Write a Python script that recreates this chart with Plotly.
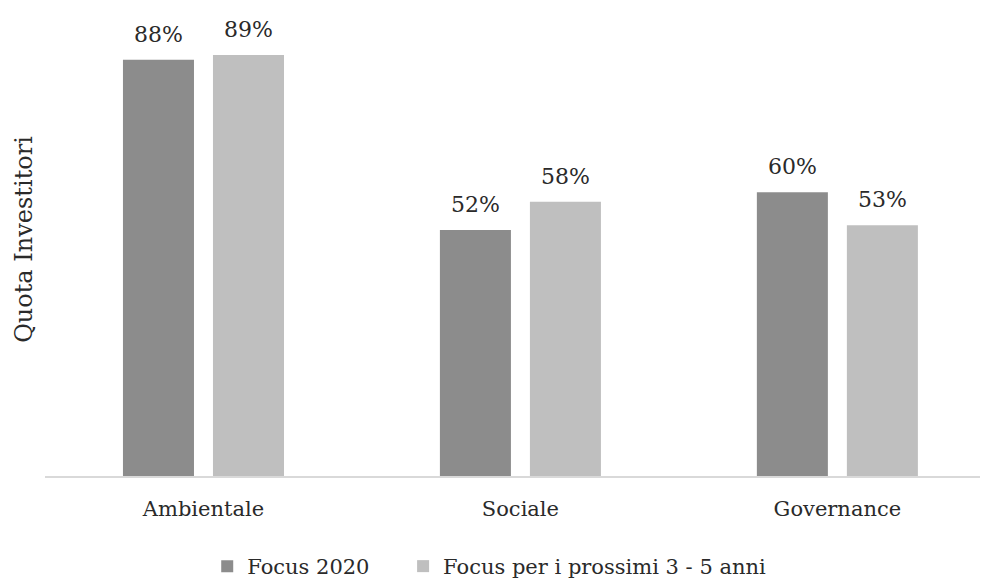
import plotly.graph_objects as go

categories = ["Ambientale", "Sociale", "Governance"]
focus_2020 = [88, 52, 60]
focus_future = [89, 58, 53]
series_names = ["Focus 2020", "Focus per i prossimi 3 - 5 anni"]
colors = ["#8c8c8c", "#bfbfbf"]

FONT = "DejaVu Serif"
TEXT = "#2a2a2a"

fig = go.Figure()
for name, vals, col, lg in zip(series_names, [focus_2020, focus_future], colors,
                               ["legend", "legend2"]):
    fig.add_trace(go.Bar(x=categories, y=vals, name=name, marker_color=col,
                         marker_line_width=0, hoverinfo="skip", legend=lg))

annotations = []
for vals, shift in [(focus_2020, -45), (focus_future, 45)]:
    for c, v in zip(categories, vals):
        annotations.append(dict(x=c, y=v, xref="x", yref="y", text=f"{v}%",
                                showarrow=False, xshift=shift, yshift=11,
                                yanchor="bottom",
                                font=dict(family=FONT, size=22, color=TEXT)))

legend_common = dict(orientation="h", xanchor="left", yref="container",
                     y=0.025, yanchor="middle",
                     font=dict(family=FONT, size=21, color=TEXT), itemwidth=30)

fig.update_layout(
    width=982, height=581,
    margin=dict(l=45, r=2, t=3, b=105, autoexpand=False),
    paper_bgcolor="white", plot_bgcolor="white",
    barmode="group", bargap=0.432, bargroupgap=0.211,
    font=dict(family=FONT, size=21, color=TEXT),
    xaxis=dict(range=[-0.5, 2.45], showline=True, linecolor="#d9d9d9", linewidth=2,
               showgrid=False, zeroline=False, ticks="", ticklabelstandoff=13,
               tickfont=dict(family=FONT, size=21, color=TEXT)),
    yaxis=dict(range=[0, 100], showticklabels=False, showgrid=False, zeroline=False,
               showline=False, ticks="",
               title=dict(text="Quota Investitori", standoff=4,
                          font=dict(family=FONT, size=24, color=TEXT))),
    legend=dict(x=0.1735, **legend_common),
    legend2=dict(x=0.383, **legend_common),
    annotations=annotations,
    showlegend=True,
)

fig.write_html("out.html")
